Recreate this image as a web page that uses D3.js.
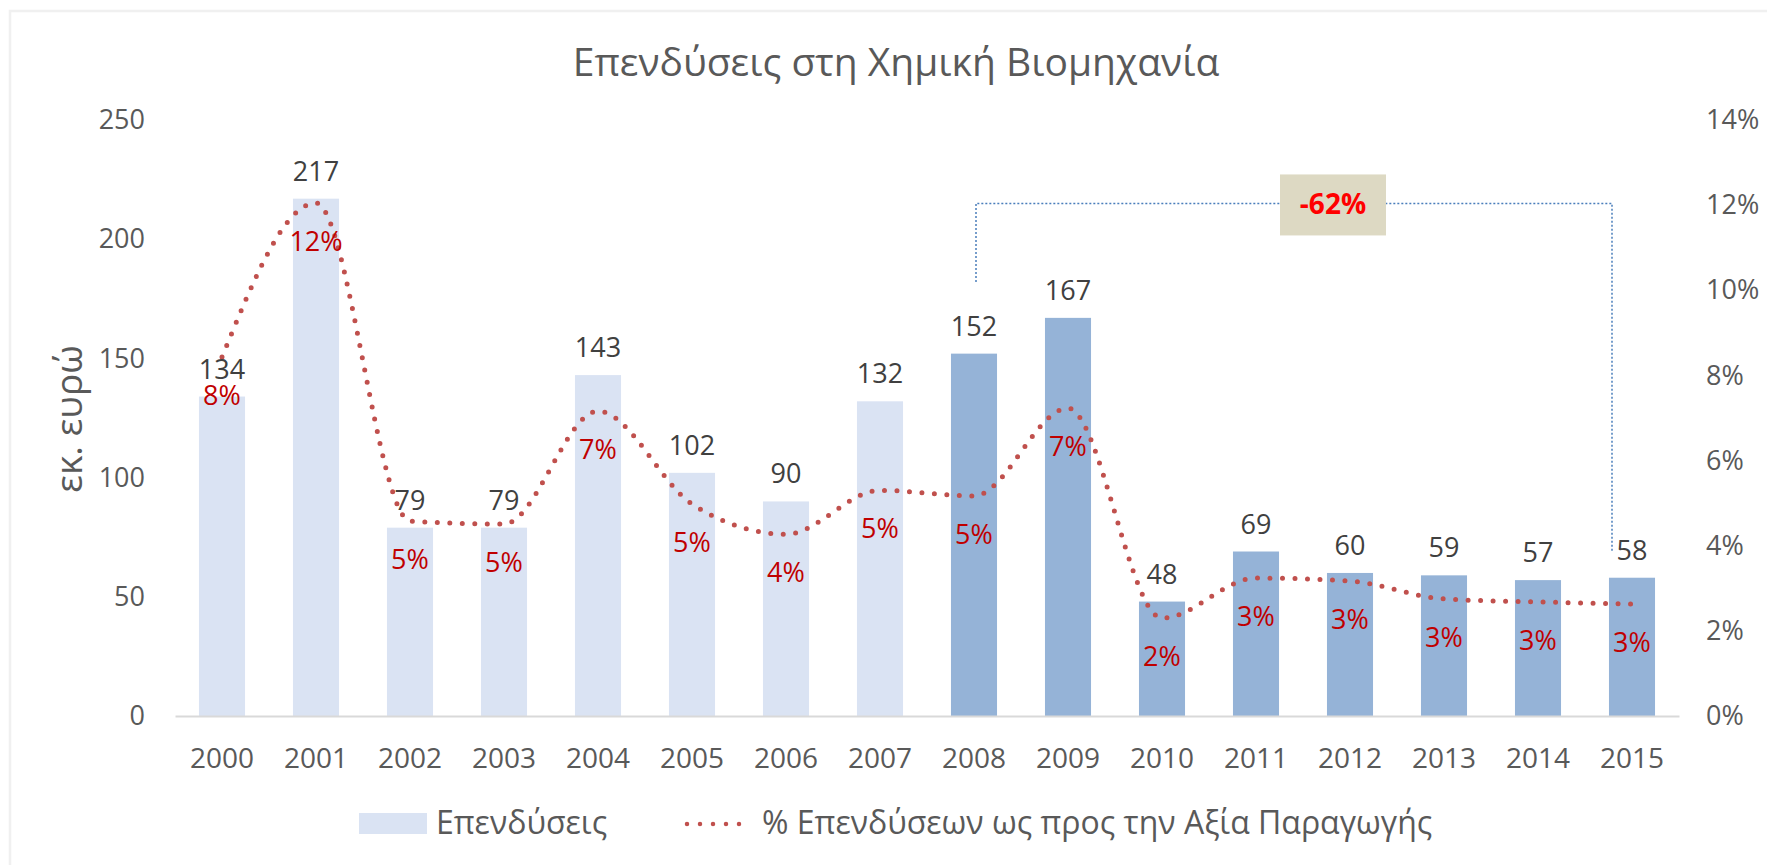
<!DOCTYPE html>
<html>
<head>
<meta charset="utf-8">
<script src="https://cdn.jsdelivr.net/npm/d3@7"></script>
<style>
  body { margin: 0; background: #fff; }
  text { font-family: "Open Sans", sans-serif; }
</style>
</head>
<body>
<script>
// data
var years = ["2000","2001","2002","2003","2004","2005","2006","2007",
             "2008","2009","2010","2011","2012","2013","2014","2015"];
var investments = [134, 217, 79, 79, 143, 102, 90, 132, 152, 167, 48, 69, 60, 59, 57, 58];
var shareOfOutput = [0.0843, 0.1205, 0.0458, 0.0451, 0.0716, 0.0498, 0.0427, 0.053,
                     0.0517, 0.0723, 0.0230, 0.0324, 0.0317, 0.0275, 0.0268, 0.0263];
var leftTicks = [0, 50, 100, 150, 200, 250];
var rightTicks = [0, 0.02, 0.04, 0.06, 0.08, 0.10, 0.12, 0.14];
var highlightFrom = "2008";
var annoFrom = "2008", annoTo = "2015";
var annoTop = 215, annoLeftEnd = 182, annoRightEnd = 69;
var annoText = "-62%";

var W = 1767, H = 865;

var svg = d3.select('body').append('svg').attr('width', W).attr('height', H);

// chart frame
svg.append('rect')
  .attr('x', 10).attr('y', 11).attr('width', W + 20).attr('height', H + 20)
  .attr('fill', 'none').attr('stroke', '#f0f0f0').attr('stroke-width', 2.5);

var x = d3.scaleBand().domain(years).range([175, 1679]).paddingInner(0.51).paddingOuter(0.255);
var y = d3.scaleLinear().domain([0, 250]).range([716, 120]);
var y2 = d3.scaleLinear().domain([0, 0.14]).range([716, 120]);

// title
svg.append('text')
  .attr('x', 896).attr('y', 76)
  .attr('text-anchor', 'middle')
  .attr('font-size', 39)
  .attr('fill', '#595959')
  .text('Επενδύσεις στη Χημική Βιομηχανία');

// y axis title
svg.append('text')
  .attr('transform', 'translate(82,419) rotate(-90)')
  .attr('text-anchor', 'middle')
  .attr('font-size', 37)
  .attr('fill', '#595959')
  .text('εκ. ευρώ');

// left axis
var gl = svg.append('g').attr('transform', 'translate(155,0)')
  .call(d3.axisLeft(y).tickValues(leftTicks).tickSize(0).tickPadding(10));
gl.select('.domain').remove();
gl.selectAll('text').attr('font-size', 27).attr('fill', '#595959').attr('font-family', '"Open Sans", sans-serif');

// right axis
var gr = svg.append('g').attr('transform', 'translate(1696,0)')
  .call(d3.axisRight(y2).tickValues(rightTicks).tickSize(0).tickPadding(10).tickFormat(d3.format('.0%')));
gr.select('.domain').remove();
gr.selectAll('text').attr('font-size', 27).attr('fill', '#595959').attr('font-family', '"Open Sans", sans-serif');

// bars
svg.selectAll('rect.bar')
  .data(investments)
  .enter()
  .append('rect')
  .attr('class', 'bar')
  .attr('x', function (d, i) { return x(years[i]); })
  .attr('width', x.bandwidth())
  .attr('y', function (d) { return y(d); })
  .attr('height', function (d) { return y(0) - y(d); })
  .attr('fill', function (d, i) { return years[i] >= highlightFrom ? '#95b3d7' : '#dae3f3'; });

// x axis
var gx = svg.append('g').attr('transform', 'translate(0,716)')
  .call(d3.axisBottom(x).tickSize(0).tickPadding(32));
gx.select('.domain').attr('stroke', '#d9d9d9').attr('stroke-width', 2);
gx.selectAll('text').attr('font-size', 28).attr('fill', '#595959').attr('font-family', '"Open Sans", sans-serif');

// annotation bracket
var annoRightX = x(annoTo) + x.bandwidth() / 2 - 20;
var annoLeftX = x(annoFrom) + x.bandwidth() / 2 + 2;
svg.append('path')
  .attr('d', 'M' + annoLeftX + ',' + y(annoLeftEnd) + 'V' + y(annoTop) + 'H' + annoRightX + 'V' + y(annoRightEnd))
  .attr('fill', 'none').attr('stroke', '#4a7ebb').attr('stroke-width', 1.5)
  .attr('stroke-dasharray', '2 2');

var boxCx = x("2012") + x.bandwidth() / 2 - 17;
svg.append('rect')
  .attr('x', boxCx - 53).attr('y', y(annoTop) - 29).attr('width', 106).attr('height', 61)
  .attr('fill', '#ddd9c3');
svg.append('text')
  .attr('x', boxCx).attr('y', y(annoTop) + 11)
  .attr('text-anchor', 'middle')
  .attr('font-size', 28).attr('font-weight', 'bold')
  .attr('fill', '#ff0000')
  .text(annoText);

// percentage line
var line = d3.line()
  .x(function (d, i) { return x(years[i]) + x.bandwidth() / 2; })
  .y(function (d) { return y2(d); })
  .curve(d3.curveMonotoneX);

svg.append('path')
  .datum(shareOfOutput)
  .attr('d', line)
  .attr('fill', 'none')
  .attr('stroke', '#c0504d')
  .attr('stroke-width', 5)
  .attr('stroke-linecap', 'round')
  .attr('stroke-dasharray', '0 12.5');

// bar value labels
svg.selectAll('text.val')
  .data(investments)
  .enter()
  .append('text')
  .attr('class', 'val')
  .attr('x', function (d, i) { return x(years[i]) + x.bandwidth() / 2; })
  .attr('y', function (d) { return y(d) - 18; })
  .attr('text-anchor', 'middle')
  .attr('font-size', 27)
  .attr('fill', '#404040')
  .text(function (d) { return d; });

// percentage labels
svg.selectAll('text.pct')
  .data(shareOfOutput)
  .enter()
  .append('text')
  .attr('class', 'pct')
  .attr('x', function (d, i) { return x(years[i]) + x.bandwidth() / 2; })
  .attr('y', function (d) { return y2(d) + 48; })
  .attr('text-anchor', 'middle')
  .attr('font-size', 27)
  .attr('fill', '#c00000')
  .text(function (d) { return d3.format('.0%')(d); });

// legend
var legend = svg.append('g');
legend.append('rect')
  .attr('x', 359).attr('y', 813).attr('width', 68).attr('height', 21)
  .attr('fill', '#dae3f3');
legend.append('text')
  .attr('x', 436).attr('y', 834)
  .attr('font-size', 32).attr('fill', '#595959')
  .text('Επενδύσεις');
legend.append('line')
  .attr('x1', 687).attr('x2', 752).attr('y1', 824).attr('y2', 824)
  .attr('stroke', '#c0504d').attr('stroke-width', 4.5)
  .attr('stroke-linecap', 'round').attr('stroke-dasharray', '0 13');
legend.append('text')
  .attr('x', 762).attr('y', 834)
  .attr('font-size', 32).attr('fill', '#595959')
  .text('% Επενδύσεων ως προς την Αξία Παραγωγής');
</script>
</body>
</html>
